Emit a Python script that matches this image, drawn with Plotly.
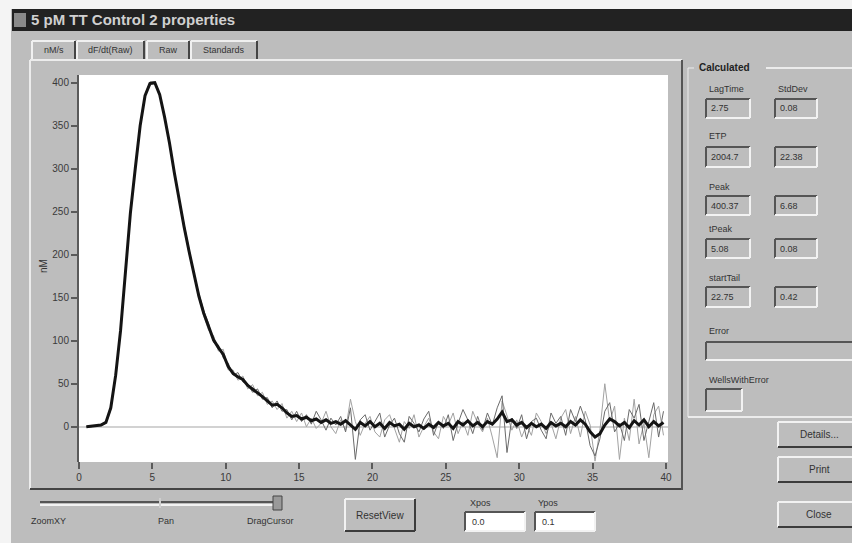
import plotly.graph_objects as go

# ---------------- data ----------------
t_start = 0.5
t_step = 1.0 / 3.0
mean_nM = [0, 0.5, 1, 2, 5, 22, 60, 112, 180, 248, 300, 350, 385, 399, 400, 386, 360, 330, 295, 262,
           232, 204, 176, 152, 132, 116, 101, 92, 84, 70, 62, 58, 55, 48, 44, 40, 35, 30, 25, 26,
           22, 16, 12, 13, 9, 11, 7, 9, 5, 8, 4, 6, 3, 7, 2, -3, 5, 1, 6, 0,
           4, -2, 5, 1, 3, -3, 4, 0, 2, -2, 3, -1, 5, 1, 4, -2, 6, 2, 7, 1,
           5, 0, 6, 3, 9, 17, 6, 8, 2, 5, -1, 4, 0, 3, -2, 5, 1, 4, 0, 6,
           2, 8, 3, -6, -12, -8, 2, 9, 6, 1, 5, -1, 7, 2, 8, 0, 6, 1, 5]
rep_a_nM = [0, 0, 1, 3, 6, 24, 62, 114, 182, 250, 302, 352, 386, 401, 401, 387, 361, 331, 297, 264,
            234, 206, 178, 155, 135, 120, 98, 95, 80, 74, 60, 63, 52, 50, 40, 44, 32, 34, 22, 30,
            18, 20, 8, 18, 6, 14, 3, 18, 8, -4, 10, 2, 12, -6, 22, -38, 8, 14, -4, 6,
            16, -12, 2, 10, -8, -18, 12, 4, -6, 9, 18, -10, 6, -2, 14, -16, 4, 20, 8, -8,
            12, -4, 16, 2, 22, 36, -30, 10, -2, 14, -14, 6, 10, -4, -14, 16, 4, 12, -10, 20,
            6, 24, 8, -22, -34, -14, 18, 28, -6, 4, -16, 20, 10, 26, -16, 6, 28, -12, 18]
rep_b_nM = [0, 1, 1, 1, 4, 20, 58, 110, 178, 246, 298, 348, 384, 398, 399, 385, 359, 329, 293, 260,
            230, 202, 174, 150, 129, 112, 106, 88, 90, 66, 66, 54, 59, 44, 49, 36, 40, 26, 30, 20,
            27, 10, 18, 6, 16, 0, 10, -2, 4, 18, 0, -8, 8, -4, 32, 6, -10, 4, 12, -6,
            -12, 8, 14, -2, -18, 6, -2, 14, -12, 0, 10, -6, -14, 12, 2, 16, -8, 6, -10, 18,
            4, -6, 10, -12, -36, 30, 12, -4, 8, -12, 2, -10, 16, 6, -8, 4, -14, 10, 20, -8,
            12, -12, 18, 2, -40, -4, 50, 6, 24, -38, 10, -16, 32, -20, 4, -36, 14, 24, -10]
time_min = [round(t_start + i * t_step, 3) for i in range(len(mean_nM))]

x_ticks = [0, 5, 10, 15, 20, 25, 30, 35, 40]
y_ticks = [0, 50, 100, 150, 200, 250, 300, 350, 400]

title_text = "5 pM TT Control 2 properties"
tab_labels = ["nM/s", "dF/dt(Raw)", "Raw", "Standards"]
calc_labels = ["LagTime", "ETP", "Peak", "tPeak", "startTail"]
calc_values = ["2.75", "2004.7", "400.37", "5.08", "22.75"]
calc_sd = ["0.08", "22.38", "6.68", "0.08", "0.42"]

# ---------------- geometry helpers ----------------
W, H = 852, 543
L, R, T, B = 79, 668, 75, 462
BG = "#bdbdbd"
FONT = "Liberation Sans"


def X(p):
    return (p - L) / (R - L)


def Y(p):
    return (B - p) / (B - T)


shapes = []
annots = []


def rect(x0, y0, x1, y1, fill=None, color=None, width=0):
    shapes.append(dict(type="rect", xref="paper", yref="paper",
                       x0=X(x0), x1=X(x1), y0=Y(y1), y1=Y(y0),
                       fillcolor=fill if fill else "rgba(0,0,0,0)",
                       line=dict(color=color if color else "rgba(0,0,0,0)", width=width)))


def line(x0, y0, x1, y1, color, width=1):
    shapes.append(dict(type="line", xref="paper", yref="paper",
                       x0=X(x0), x1=X(x1), y0=Y(y0), y1=Y(y1),
                       line=dict(color=color, width=width)))


def text(x, y, s, size=10, color="#2a2a2a", xanchor="center", bold=False):
    annots.append(dict(xref="paper", yref="paper", x=X(x), y=Y(y), text=("<b>%s</b>" % s) if bold else s,
                       showarrow=False, xanchor=xanchor, yanchor="middle",
                       font=dict(family=FONT, size=size, color=color)))


def raised(x0, y0, x1, y1):
    line(x0, y0, x1, y0, "#f2f2f2", 2)
    line(x0, y0, x0, y1, "#f2f2f2", 2)
    line(x0, y1, x1, y1, "#3c3c3c", 2)
    line(x1, y0, x1, y1, "#3c3c3c", 2)


def sunken(x0, y0, x1, y1, fill=None):
    if fill:
        rect(x0, y0, x1, y1, fill=fill)
    line(x0, y0, x1, y0, "#555555", 2)
    line(x0, y0, x0, y1, "#555555", 2)
    line(x0, y1, x1, y1, "#f2f2f2", 2)
    line(x1, y0, x1, y1, "#f2f2f2", 2)


# window chrome
rect(0, 0, W, 9, fill="#f4f4f4")
rect(0, 0, 11, H, fill="#f4f4f4")
rect(12, 9, W, 31, fill="#222222")
rect(14, 13, 26, 27, fill="#8a8a8a")
text(29, 20, title_text, size=15, color="#d0d0d0", xanchor="left", bold=True)

# tabs
tab_x = [(32, 75), (77, 144), (147, 189), (191, 257)]
for (a, b), lab in zip(tab_x, tab_labels):
    line(a, 41, b, 41, "#f0f0f0", 2)
    line(a, 41, a, 59, "#f0f0f0", 2)
    line(b, 41, b, 59, "#444444", 2)
    text((a + b) / 2, 50, lab, size=9, color="#333333")

# tab panel border
line(30, 60, 682, 60, "#ececec", 2)
line(30, 60, 30, 489, "#ececec", 2)
line(30, 489, 682, 489, "#444444", 2)
line(682, 60, 682, 490, "#555555", 2)

# y axis extension below plot
line(79, 462, 79, 469, "#5a5a5a", 2)
text(43, 266, "nM", size=10, color="#333333")
annots[-1]["textangle"] = -90

# right panel: Calculated group
line(688, 68, 694, 68, "#ececec", 1)
line(766, 68, W, 68, "#ececec", 2)
line(688, 68, 688, 417, "#ececec", 1)
line(688, 417, W, 417, "#ececec", 2)
text(697, 68, "Calculated", size=10, color="#222222", xanchor="left", bold=True)
rows_y = [(89, 99, 118), (136, 147, 167), (187, 196, 215), (229, 239, 258), (278, 287, 307)]
for (ly, b0, b1), lab, v, sd in zip(rows_y, calc_labels, calc_values, calc_sd):
    text(707, ly, lab, size=9, color="#333333", xanchor="left")
    sunken(706, b0, 750, b1)
    text(709, (b0 + b1) / 2, v, size=9, color="#333333", xanchor="left")
    sunken(775, b0, 817, b1)
    text(778, (b0 + b1) / 2, sd, size=9, color="#333333", xanchor="left")
text(776, 89, "StdDev", size=9, color="#333333", xanchor="left")
text(707, 331, "Error", size=9, color="#333333", xanchor="left")
sunken(706, 342, 860, 360)
text(707, 380, "WellsWithError", size=9, color="#333333", xanchor="left")
sunken(706, 389, 742, 411)

# right buttons
for (y0, y1), lab in zip([(422, 447), (457, 482), (502, 527)], ["Details...", "Print", "Close"]):
    raised(778, y0, 860, y1)
    text(819, (y0 + y1) / 2, lab, size=10, color="#333333")

# bottom controls
line(40, 502, 282, 502, "#555555", 2)
line(40, 505, 282, 505, "#f2f2f2", 2)
line(160, 498, 160, 508, "#cfcfcf", 2)
rect(273, 496, 282, 510, fill="#9a9a9a", color="#444444", width=1)
text(48, 521, "ZoomXY", size=9, color="#333333")
text(166, 521, "Pan", size=9, color="#333333")
text(270, 521, "DragCursor", size=9, color="#333333")
raised(345, 499, 415, 531)
text(380, 515, "ResetView", size=10, color="#333333")
text(480, 503, "Xpos", size=9, color="#333333")
sunken(465, 512, 525, 531, fill="#ffffff")
text(470, 522, "0.0", size=9, color="#333333", xanchor="left")
text(548, 503, "Ypos", size=9, color="#333333")
sunken(535, 512, 595, 531, fill="#ffffff")
text(540, 522, "0.1", size=9, color="#333333", xanchor="left")

# ---------------- traces ----------------
fig = go.Figure()
fig.add_trace(go.Scatter(x=time_min, y=rep_b_nM, mode="lines",
                         line=dict(color="#a2a2a2", width=1), hoverinfo="skip", showlegend=False))
fig.add_trace(go.Scatter(x=time_min, y=rep_a_nM, mode="lines",
                         line=dict(color="#6a6a6a", width=1), hoverinfo="skip", showlegend=False))
fig.add_trace(go.Scatter(x=time_min, y=mean_nM, mode="lines",
                         line=dict(color="#141414", width=3), showlegend=False))

fig.update_layout(
    width=W, height=H,
    margin=dict(l=L, r=W - R, t=T, b=H - B, pad=0),
    paper_bgcolor=BG, plot_bgcolor="#ffffff",
    shapes=shapes, annotations=annots,
    showlegend=False,
)
fig.update_xaxes(range=[0, 40.14], tickvals=x_ticks, ticktext=[str(v) for v in x_ticks],
                 ticks="outside", ticklen=6, tickwidth=2, tickcolor="#5a5a5a",
                 showgrid=False, zeroline=False, showline=False,
                 tickfont=dict(family=FONT, size=10, color="#3a3a3a"))
fig.update_yaxes(range=[-41, 409], tickvals=y_ticks, ticktext=[str(v) for v in y_ticks],
                 ticks="outside", ticklen=6, tickwidth=2, tickcolor="#5a5a5a",
                 showgrid=False, zeroline=True, zerolinecolor="#d2d2d2", zerolinewidth=2,
                 showline=True, linecolor="#5a5a5a", linewidth=2,
                 tickfont=dict(family=FONT, size=10, color="#3a3a3a"))

fig.write_html("out.html", config={"displayModeBar": False},
               post_script="document.body.style.margin='0';document.body.style.overflow='hidden';")
